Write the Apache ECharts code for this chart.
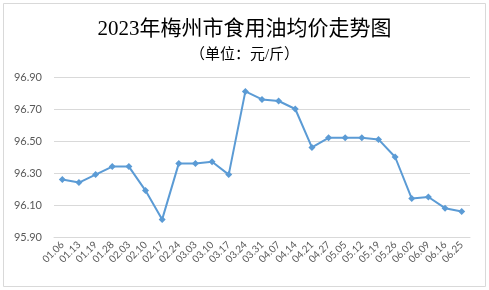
<!DOCTYPE html>
<html>
<head>
<meta charset="utf-8">
<script src="https://cdn.jsdelivr.net/npm/echarts@6/dist/echarts.min.js"></script>
<style>html,body{margin:0;padding:0;background:#fff}#c{width:489px;height:290px}</style>
</head>
<body>
<div id="c"></div>
<script>
const titleText = '2023年梅州市食用油均价走势图';
const subtitleText = '（单位：元/斤）';
const categories = ['01.06','01.13','01.19','01.28','02.03','02.10','02.17','02.24','03.03','03.10','03.17','03.24','03.31','04.07','04.14','04.21','04.27','05.05','05.12','05.19','05.26','06.02','06.09','06.16','06.25'];
const prices = [96.26,96.24,96.29,96.34,96.34,96.19,96.01,96.36,96.36,96.37,96.29,96.81,96.76,96.75,96.70,96.46,96.52,96.52,96.52,96.51,96.40,96.14,96.15,96.08,96.06];
const yMin = 95.9, yMax = 96.9, yStep = 0.2;

const chart = echarts.init(document.getElementById('c'), null, {renderer:'canvas'});
chart.setOption({
  animation:false,
  backgroundColor:'#ffffff',
  graphic:[{type:'rect',shape:{x:3.5,y:3.5,width:482,height:283},style:{fill:'none',stroke:'#d9d9d9',lineWidth:1}}],
  title:[
    {text:titleText,left:'center',top:14,textStyle:{fontFamily:'Liberation Serif, Noto Sans CJK SC',fontSize:21,fontWeight:'normal',color:'#000'}},
    {text:subtitleText,left:'center',top:43,textStyle:{fontFamily:'Liberation Serif, Noto Sans CJK SC',fontSize:15,fontWeight:'normal',color:'#000'}}
  ],
  grid:{left:54,right:19,top:77,bottom:53,containLabel:false},
  xAxis:{type:'category',data:categories,boundaryGap:true,
    axisLine:{lineStyle:{color:'#d9d9d9',width:1}},axisTick:{show:false},
    axisLabel:{rotate:45,interval:0,fontSize:10,color:'#595959',fontFamily:'Lato, Liberation Sans',margin:6}},
  yAxis:{type:'value',min:yMin,max:yMax,interval:yStep,
    axisLine:{show:false},axisTick:{show:false},
    splitLine:{lineStyle:{color:'#d9d9d9',width:1}},
    axisLabel:{formatter:v=>v.toFixed(2),fontSize:11,color:'#595959',fontFamily:'Lato, Liberation Sans',margin:12}},
  series:[{type:'line',data:prices,symbol:'diamond',symbolSize:7,
    lineStyle:{color:'#5B9BD5',width:2},itemStyle:{color:'#5B9BD5'}}]
});
</script>
</body>
</html>
